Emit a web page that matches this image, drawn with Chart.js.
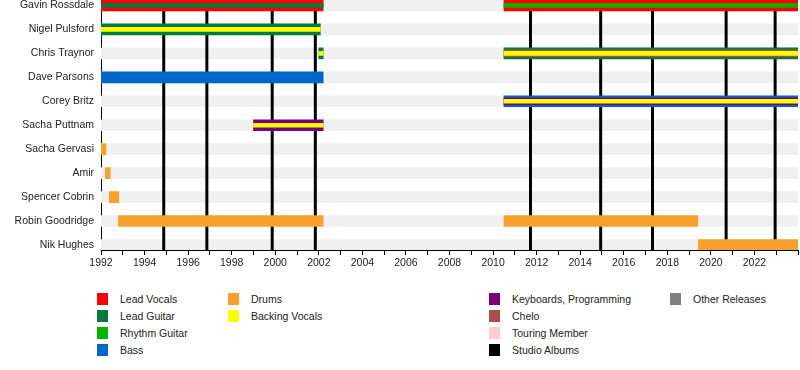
<!DOCTYPE html>
<html>
<head>
<meta charset="utf-8">
<script src="https://cdn.jsdelivr.net/npm/chart.js@4"></script>
<style>
  body { margin: 0; background: #fff; font-family: "Liberation Sans", Arial, sans-serif; }
  #wrap { position: relative; width: 800px; height: 370px; }
  #timeline { position: absolute; left: 0; top: 0; }
  .leg { position: absolute; font-size: 10.5px; color: #222; white-space: nowrap; line-height: 12px; }
  .leg span { position: absolute; left: 0; top: 0; width: 11px; height: 12px; }
  .leg b { position: absolute; left: 23px; top: 0; font-weight: normal; }
</style>
</head>
<body>
<div id="wrap">
  <canvas id="timeline" width="800" height="271"></canvas>
  <div id="legend"></div>
</div>
<script>
// Members (top to bottom)
const memberNames = ['Gavin Rossdale', 'Nigel Pulsford', 'Chris Traynor', 'Dave Parsons', 'Corey Britz',
  'Sacha Puttnam', 'Sacha Gervasi', 'Amir', 'Spencer Cobrin', 'Robin Goodridge', 'Nik Hughes'];

// Stints: member index, start, end, roles (outer -> inner)
const stintMember = [0, 0, 1, 2, 2, 3, 4, 5, 6, 7, 8, 9, 9, 10];
const stintStart  = [1992, 2010.5, 1992, 2002.0, 2010.5, 1992, 2010.5, 1999.0, 1992, 1992.2, 1992.38, 1992.8, 2010.5, 2019.43];
const stintEnd    = [2002.2, 2024, 2002.07, 2002.2, 2024, 2002.2, 2024, 2002.2, 1992.23, 1992.42, 1992.82, 2002.2, 2019.4, 2024];
const stintRoles  = [
  ['Lead Vocals', 'Lead Guitar'],
  ['Lead Vocals', 'Rhythm Guitar'],
  ['Lead Guitar', 'Backing Vocals'],
  ['Lead Guitar', 'Backing Vocals'],
  ['Lead Guitar', 'Chelo', 'Backing Vocals'],
  ['Bass'],
  ['Bass', 'Keyboards, Programming', 'Backing Vocals'],
  ['Keyboards, Programming', 'Backing Vocals'],
  ['Drums'], ['Drums'], ['Drums'], ['Drums'], ['Drums'], ['Drums']
];

// Studio album release dates
const albumYears = [1994.88, 1996.86, 1999.86, 2001.84, 2011.72, 2014.94, 2017.32, 2020.7, 2022.95];

// Legend
const legendLabels = ['Lead Vocals', 'Lead Guitar', 'Rhythm Guitar', 'Bass', 'Drums', 'Backing Vocals',
  'Keyboards, Programming', 'Chelo', 'Touring Member', 'Studio Albums', 'Other Releases'];
const legendColors = ['#ff0000', '#007a3d', '#00b400', '#0066cc', '#f7a02c', '#ffff00',
  '#7a0078', '#b04c4c', '#ffcccc', '#000000', '#808080'];
const legendColumn = [0, 0, 0, 0, 1, 1, 2, 2, 2, 2, 3];
const legendRow    = [0, 1, 2, 3, 0, 1, 0, 1, 2, 3, 0];

const xStart = 1992, xEnd = 2024;
const roleColor = {};
legendLabels.forEach((l, i) => { roleColor[l] = legendColors[i]; });
roleColor['Chelo'] = '#a0553a';

const layerThickness = { 1: [11], 2: [11, 4], 3: [11, 7, 4] };

// Build role layer datasets
const layerSets = {};
stintMember.forEach((m, i) => {
  const roles = stintRoles[i];
  roles.forEach((role, layer) => {
    const th = layerThickness[roles.length][layer];
    const key = role + '|' + layer + '|' + th;
    if (!layerSets[key]) {
      layerSets[key] = {
        type: 'bar',
        label: role,
        indexAxis: 'y',
        data: [],
        backgroundColor: roleColor[role],
        barThickness: th,
        grouped: false,
        xAxisID: 'x',
        yAxisID: 'y',
        order: 50 - layer * 10
      };
    }
    layerSets[key].data.push({ x: [stintStart[i], stintEnd[i]], y: m });
  });
});

const datasets = [];

// light grey band behind each row
datasets.push({
  type: 'bar',
  label: 'rows',
  indexAxis: 'y',
  data: memberNames.map((n, i) => ({ x: [xStart, xEnd], y: i })),
  backgroundColor: '#f0f0f0',
  barThickness: 11,
  grouped: false,
  xAxisID: 'x',
  yAxisID: 'y',
  order: 100
});

// studio albums
albumYears.forEach(yr => {
  datasets.push({
    type: 'line',
    label: 'album',
    indexAxis: 'x',
    data: [{ x: yr, y: 0 }, { x: yr, y: 1 }],
    borderColor: '#000',
    borderWidth: 3,
    pointRadius: 0,
    xAxisID: 'x',
    yAxisID: 'yl',
    order: 90
  });
});

Object.values(layerSets).forEach(ds => datasets.push(ds));

const ctx = document.getElementById('timeline').getContext('2d');
new Chart(ctx, {
  data: { datasets: datasets },
  options: {
    responsive: false,
    animation: false,
    indexAxis: 'y',
    layout: { padding: 0 },
    plugins: {
      legend: { display: false },
      tooltip: { enabled: false }
    },
    scales: {
      x: {
        type: 'linear',
        position: 'bottom',
        min: xStart,
        max: xEnd,
        offset: false,
        grid: { drawOnChartArea: false, drawTicks: true, tickLength: 5, color: '#000' },
        border: { color: '#000', width: 1 },
        afterFit: scale => { scale.height = 21; },
        ticks: {
          stepSize: 1,
          autoSkip: false,
          maxRotation: 0,
          padding: 2,
          color: '#222',
          font: { family: 'Liberation Sans', size: 10.5 },
          callback: v => (v % 2 === 0 && v < xEnd) ? String(v) : ''
        }
      },
      y: {
        type: 'linear',
        position: 'left',
        reverse: true,
        offset: false,
        min: -0.23,
        max: 10.21,
        grid: { display: false, drawTicks: false, offset: false },
        border: { display: true, color: '#000', width: 1 },
        afterBuildTicks: scale => { scale.ticks = memberNames.map((n, i) => ({ value: i })); },
        afterFit: scale => { scale.width = 101; scale.paddingTop = 0; scale.paddingBottom = 0; },
        ticks: {
          padding: 7,
          color: '#222',
          font: { family: 'Liberation Sans', size: 10.5 },
          callback: v => memberNames[v]
        }
      },
      yl: {
        type: 'linear',
        display: false,
        min: 0,
        max: 1
      }
    }
  }
});

// HTML legend
const colX = [97, 228, 489, 670];
const rowY = [293, 310, 327, 344];
const legendEl = document.getElementById('legend');
legendLabels.forEach((label, i) => {
  const item = document.createElement('div');
  item.className = 'leg';
  item.style.left = colX[legendColumn[i]] + 'px';
  item.style.top = rowY[legendRow[i]] + 'px';
  item.innerHTML = `<span style="background:${legendColors[i]}"></span><b>${label}</b>`;
  legendEl.appendChild(item);
});
</script>
</body>
</html>
